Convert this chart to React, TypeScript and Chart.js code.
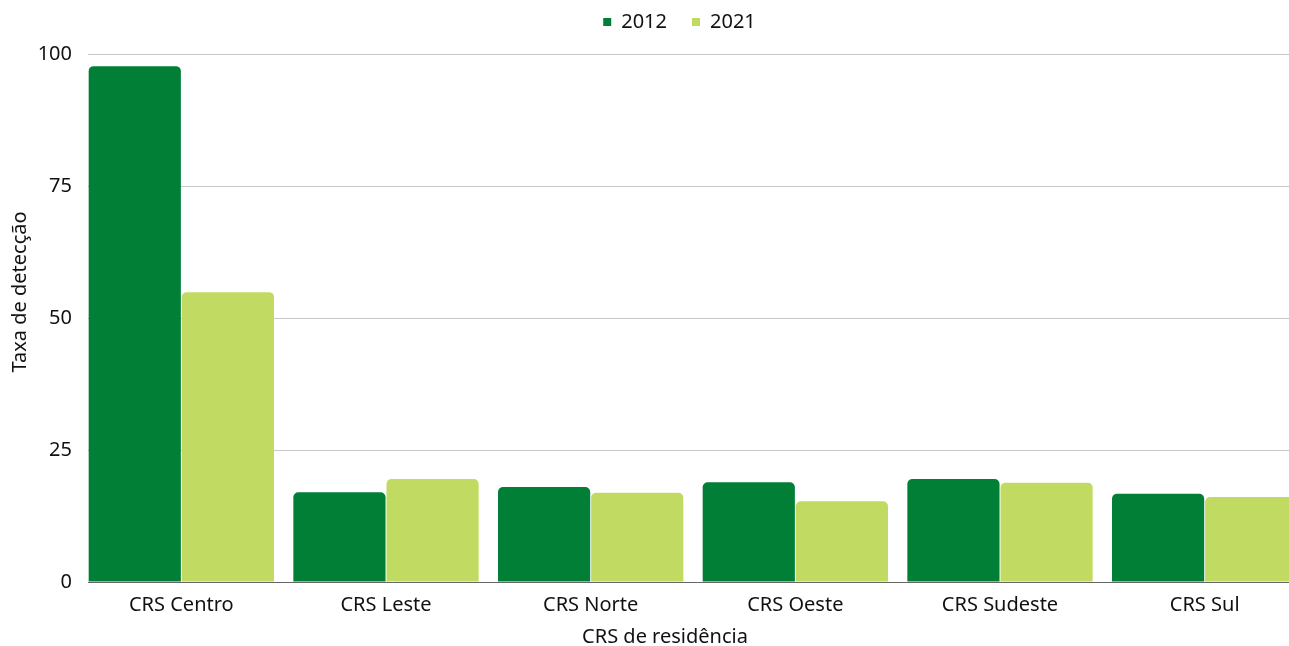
import React, { useEffect, useRef } from "react";
import { Chart, registerables } from "chart.js";

Chart.register(...registerables);

const categories = ["CRS Centro", "CRS Leste", "CRS Norte", "CRS Oeste", "CRS Sudeste", "CRS Sul"];
const values2012 = [97.7, 17.0, 18.0, 18.9, 19.5, 16.7];
const values2021 = [54.9, 19.5, 16.9, 15.3, 18.8, 16.1];
const yTicks = [0, 25, 50, 75, 100];

const FONT = "'Noto Sans', sans-serif";
const CANVAS_W = 1307;
const CANVAS_H = 646;
const GRID_INSET = 9;

function shiftDraw(obj: any, method: string, dx: number, dy: number) {
  if (!obj || obj["__shift_" + method]) return;
  const orig = obj[method];
  obj[method] = function (...args: any[]) {
    const ctx = this.ctx;
    ctx.save();
    ctx.translate(dx, dy);
    const r = orig.apply(this, args);
    ctx.restore();
    return r;
  };
  obj["__shift_" + method] = true;
}

function insetDraw(obj: any, method: string) {
  if (!obj || obj["__inset_" + method]) return;
  const orig = obj[method];
  obj[method] = function (...args: any[]) {
    const ctx = this.ctx;
    const area = this.chart.chartArea;
    ctx.save();
    ctx.beginPath();
    ctx.rect(area.left + GRID_INSET, 0, this.chart.width, this.chart.height);
    ctx.clip();
    const r = orig.apply(this, args);
    ctx.restore();
    return r;
  };
  obj["__inset_" + method] = true;
}

const layoutFix = {
  id: "layoutFix",
  beforeUpdate(chart: any) {
    const lg = chart.legend;
    if (lg && !lg.__patched) {
      const orig = lg.fit;
      lg.fit = function () {
        orig.call(this);
        this.height = 67;
      };
      lg.__patched = true;
      shiftDraw(lg, "draw", 22, 0);
    }
  },
};

export default function App() {
  const ref = useRef<HTMLCanvasElement | null>(null);
  useEffect(() => {
    if (!ref.current) return;
    const chart = new Chart(ref.current, {
      type: "bar",
      data: {
        labels: categories,
        datasets: [
          {
            label: "2012",
            data: values2012,
            backgroundColor: "#017f37",
            borderRadius: { topLeft: 5, topRight: 5, bottomLeft: 0, bottomRight: 0 },
            borderSkipped: false,
            barPercentage: 0.99,
            categoryPercentage: 0.91,
          },
          {
            label: "2021",
            data: values2021,
            backgroundColor: "#c1da61",
            borderRadius: { topLeft: 5, topRight: 5, bottomLeft: 0, bottomRight: 0 },
            borderSkipped: false,
            barPercentage: 0.99,
            categoryPercentage: 0.91,
          },
        ],
      },
      plugins: [layoutFix],
      options: {
        animation: false,
        responsive: false,
        maintainAspectRatio: false,
        layout: { padding: { left: 8, right: 0, top: -13, bottom: 0 } },
        plugins: {
          legend: {
            position: "top",
            labels: {
              boxWidth: 8,
              boxHeight: 8,
              padding: 25,
              color: "#111",
              font: { family: FONT, size: 20 },
            },
          },
          tooltip: { enabled: false },
        },
        scales: {
          x: {
            afterFit: (s: any) => {
              s.height = 64;
              shiftDraw(s, "drawTitle", -28, 0);
              insetDraw(s, "drawBorder");
            },
            grid: { display: false, drawTicks: false },
            border: { display: true, color: "#666", width: 1 },
            ticks: { color: "#111", font: { family: FONT, size: 20 }, padding: 11 },
            title: {
              display: true,
              text: "CRS de residência",
              color: "#111",
              font: { family: FONT, size: 20 },
              padding: { top: 5, bottom: -3 },
            },
          },
          y: {
            min: 0,
            max: 100,
            afterFit: (s: any) => {
              s.width = 71;
              shiftDraw(s, "drawTitle", 0, -26);
              insetDraw(s, "drawGrid");
            },
            afterBuildTicks: (axis: any) => {
              axis.ticks = yTicks.map((v) => ({ value: v }));
            },
            grid: { color: "#c8c8c8", drawTicks: false, lineWidth: 1 },
            border: { display: false },
            ticks: { color: "#111", font: { family: FONT, size: 20 }, padding: 7 },
            title: {
              display: true,
              text: "Taxa de detecção",
              color: "#111",
              font: { family: FONT, size: 20 },
              padding: { top: 0, bottom: 7 },
            },
          },
        },
      },
    });
    return () => chart.destroy();
  }, []);
  return (
    <div style={{ position: "absolute", left: 0, top: 0, width: 1289, height: 646, overflow: "hidden", background: "#fff" }}>
      <canvas ref={ref} width={CANVAS_W} height={CANVAS_H} style={{ display: "block", width: CANVAS_W, height: CANVAS_H }} />
    </div>
  );
}
